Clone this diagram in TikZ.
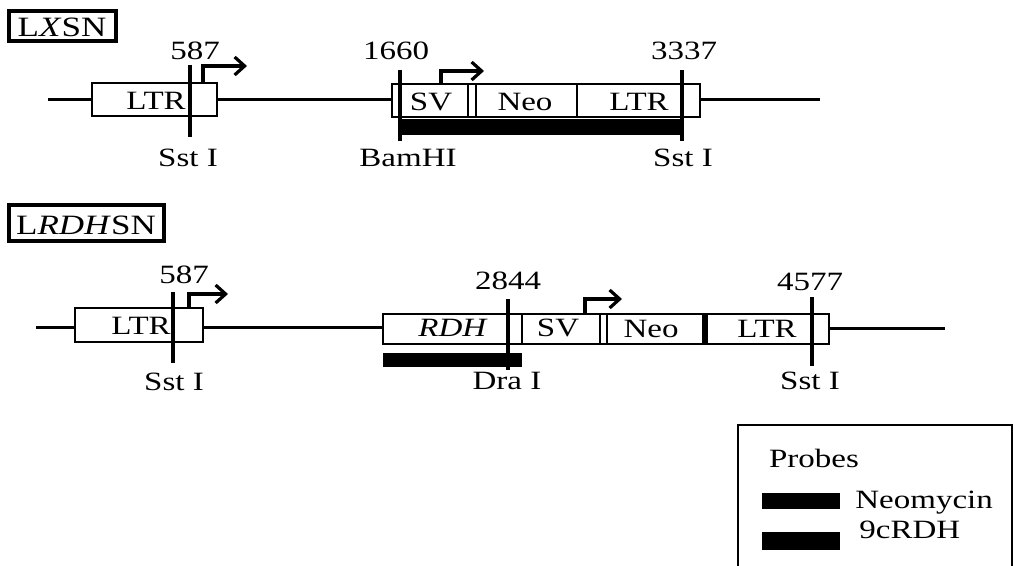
\documentclass[tikz,border=0pt]{standalone}
\usepackage{fontspec}
\setmainfont{Liberation Serif}[FakeStretch=1.25]
\usetikzlibrary{arrows.meta}
\begin{document}
\begin{tikzpicture}[x=0.5pt,y=-0.5pt,
  dna/.style={line width=1.5pt},
  seg/.style={draw,line width=1.4pt},
  site/.style={line width=1.6pt},
  promoter/.style={line width=1.6pt,-{Straight Barb[length=5pt,width=9pt]}},
  frame/.style={line width=2.2pt},
  lab/.style={anchor=base,inner sep=0pt,font=\fontsize{13.2}{15}\selectfont},
  vname/.style={lab,font=\fontsize{14}{16}\selectfont}]
\useasboundingbox (0,0) rectangle (1015,566);

% LXSN
\draw[frame] (9,11) rectangle (116,41);
\node[vname] (lxsn) at (62,37) {L\textit{X}SN};
\draw[dna] (48,100) -- (92,100) (217,100) -- (392,100) (700,100) -- (820,100);
\draw[seg] (92,83) rectangle (217,116);
\draw[seg] (392,84) rectangle (700,117);
\foreach \x in {468,476,577} \draw[seg] (\x,84) -- (\x,117);
\fill (400,119) rectangle (682,135);
\foreach \x/\a/\b in {190/65/137, 400/70/141, 682/70/141}
    \draw[site] (\x,\a) -- (\x,\b);
\coordinate (pa) at (203,83);
\coordinate (pb) at (441,84);
\draw[promoter] (pa) |- ++(44,-17);
\draw[promoter] (pb) |- ++(43,-13);
\node[lab] (ltrA) at (156,110) {LTR};
\node[lab] (svA) at (431,111) {SV};
\node[lab] (neoA) at (525,111) {Neo};
\node[lab] (ltrB) at (639,111) {LTR};
\node[lab] (posA) at (195,60) {587};
\node[lab] (posB) at (396,60) {1660};
\node[lab] (posC) at (684,60) {3337};
\node[lab] (sstA) at (188,167) {Sst I};
\node[lab] (bam) at (408,167) {BamHI};
\node[lab] (sstB) at (683,167) {Sst I};

% LRDHSN
\draw[frame] (9,205) rectangle (164,241);
\node[vname] (lrdhsn) at (86,235) {L\textit{RDH}SN};
\draw[dna] (36,327) -- (75,327) (203,327) -- (383,327) (829,328) -- (945,328);
\draw[seg] (75,308) rectangle (203,342);
\draw[seg] (383,314) rectangle (829,344);
\foreach \x in {522,600,607} \draw[seg] (\x,314) -- (\x,344);
\draw[seg,line width=2.6pt] (705,314) -- (705,344);
\fill (383,353) rectangle (522,367);
\foreach \x/\a/\b in {173/292/363, 508/299/370, 812/297/366}
    \draw[site] (\x,\a) -- (\x,\b);
\coordinate (pc) at (189,308);
\coordinate (pd) at (585,314);
\draw[promoter] (pc) |- ++(39,-14);
\draw[promoter] (pd) |- ++(37,-15);
\node[lab] (ltrC) at (141,334) {LTR};
\node[lab] (rdh) at (453,336) {\textit{RDH}};
\node[lab] (svB) at (558,336) {SV};
\node[lab] (neoB) at (651,337) {Neo};
\node[lab] (ltrD) at (767,337) {LTR};
\node[lab] (posD) at (184,284) {587};
\node[lab] (posE) at (508,290) {2844};
\node[lab] (posF) at (810,291) {4577};
\node[lab] (sstC) at (174,390) {Sst I};
\node[lab] (dra) at (507,389) {Dra I};
\node[lab] (sstD) at (810,389) {Sst I};

% legend
\draw[line width=1.4pt] (738,425) rectangle (1012,580);
\node[lab] (probes) at (814,467) {Probes};
\fill (762,493) rectangle (840,509);
\fill (762,532) rectangle (840,550);
\node[lab,anchor=base west] (neomycin) at (855,508) {Neomycin};
\node[lab,anchor=base west] (ninecrdh) at (859,538) {9cRDH};
\end{tikzpicture}
\end{document}
